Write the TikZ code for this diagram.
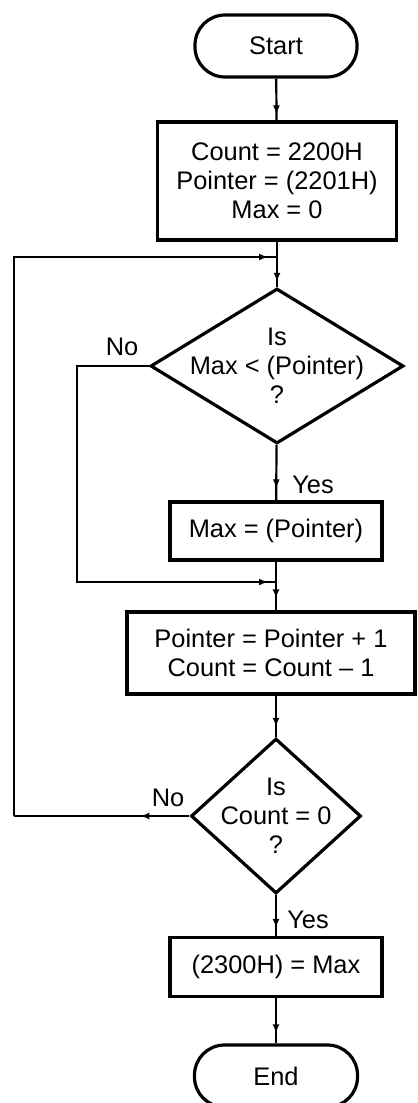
\documentclass[tikz,border=0pt]{standalone}
\usepackage{fontspec}
\setmainfont{Liberation Sans}
\usetikzlibrary{shapes.geometric,decorations.markings,arrows.meta}
\newcommand\flowfont{\fontsize{25.5}{29}\selectfont}
\begin{document}
\begin{tikzpicture}[x=1bp,y=-1bp,
  box/.style={draw, line width=3.2bp, rectangle, inner sep=0pt, align=center, font=\flowfont},
  term/.style={box, rounded corners=30bp},
  dia/.style={draw, line width=3.2bp, diamond, inner sep=0pt},
  conn/.style={line width=2.2bp},
  lbl/.style={font=\flowfont, inner sep=0pt},
  txt/.style={font=\flowfont, align=center, inner sep=0pt},
  endarrow/.style={postaction={decorate}, decoration={markings, mark=at position #1 with {\arrow{Latex[length=9bp,width=7bp]}}}}
]
\useasboundingbox (0,0) rectangle (417,1103);
\fill[white] (0,0) rectangle (417,1103);

\node[term, minimum width=162bp, minimum height=62bp] (start) at (276,46) {Start};
\node[box, minimum width=239bp, minimum height=118bp] (init) at (277,181) {Count = 2200H\\Pointer = (2201H)\\Max = 0};
\node[dia, minimum width=253bp, minimum height=155bp] (d1) at (277,366) {};
\node[txt] (d1t) at (d1.center) {Is\\Max < (Pointer)\\?};
\node[box, minimum width=212bp, minimum height=58bp] (maxb) at (276,531) {Max = (Pointer)};
\node[box, minimum width=288bp, minimum height=82bp] (ptr) at (271,653) {Pointer = Pointer + 1\\Count = Count -- 1};
\node[dia, minimum width=170bp, minimum height=155bp] (d2) at (276,816) {};
\node[txt] (d2t) at (d2.center) {Is\\Count = 0\\?};
\node[box, minimum width=212bp, minimum height=59bp] (res) at (276,967) {(2300H) = Max};
\node[term, minimum width=163bp, minimum height=62bp] (endt) at (276,1076) {End};

\node[lbl] (no1) at (122,347) {No};
\node[lbl] (yes1) at (313,485) {Yes};
\node[lbl] (no2) at (168,798) {No};
\node[lbl] (yes2) at (308,920) {Yes};

\coordinate (j1) at (276,257);
\coordinate (j2) at (276,582);
\coordinate (c1) at (77,582);
\coordinate (c2) at (14,816);
\coordinate (c3) at (14,257);

\draw[conn, endarrow=-6bp] (start) -- (init);
\draw[conn, endarrow=-5bp] (init) -- (d1);
\draw[conn, endarrow=-12bp] (d1) -- (maxb);
\draw[conn] (maxb) -- (j2);
\draw[conn, endarrow=-12bp] (j2) -- (ptr.north -| j2);
\draw[conn, endarrow=-8bp] (d1.west) -| (c1) -- (j2);
\draw[conn, endarrow=-10bp] (ptr.south -| d2.north) -- (d2.north);
\draw[conn, endarrow=-8bp] (d2) -- (res);
\draw[conn, endarrow=-10bp] (res) -- (endt);
\draw[conn, endarrow=49bp] (d2.west) -- (c2);
\draw[conn, endarrow=-8bp] (c2) -- (c3) -- (j1);
\end{tikzpicture}
\end{document}
